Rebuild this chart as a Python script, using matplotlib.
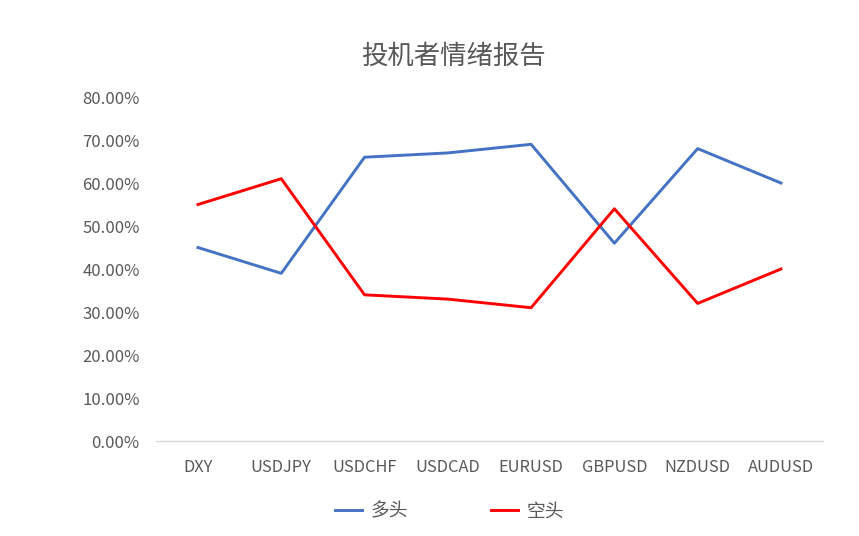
import matplotlib
matplotlib.use('Agg')
import matplotlib.pyplot as plt
from matplotlib.ticker import FuncFormatter, MultipleLocator

plt.rcParams['font.family'] = ['Noto Sans CJK SC', 'DejaVu Sans']

# data
pairs = ['DXY', 'USDJPY', 'USDCHF', 'USDCAD', 'EURUSD', 'GBPUSD', 'NZDUSD', 'AUDUSD']
long_pct = [45, 39, 66, 67, 69, 46, 68, 60]
short_pct = [55, 61, 34, 33, 31, 54, 32, 40]

text_col = '#595959'

fig = plt.figure(figsize=(8.59, 5.36), dpi=100)
ax = fig.add_axes([0.182, 0.1772, 0.7756, 0.6418])

x = range(len(pairs))
ax.plot(x, [v / 100 for v in long_pct], color='#4472C4', lw=2.1, label='多头')
ax.plot(x, [v / 100 for v in short_pct], color='#FF0000', lw=2.1, label='空头')

ax.set_xlim(-0.5, len(pairs) - 0.5)
ax.set_ylim(0, 0.8)
ax.yaxis.set_major_locator(MultipleLocator(0.1))
ax.yaxis.set_major_formatter(FuncFormatter(lambda v, p: '%.2f%%' % (v * 100)))
ax.set_xticks(list(x))
ax.set_xticklabels(pairs)

for s in ['top', 'right', 'left']:
    ax.spines[s].set_visible(False)
ax.spines['bottom'].set_color('#D9D9D9')
ax.spines['bottom'].set_linewidth(1.0)
ax.tick_params(axis='both', length=0, labelsize=11.8, colors=text_col)
ax.tick_params(axis='y', labelsize=12)
ax.tick_params(axis='x', pad=13)
ax.tick_params(axis='y', pad=12)

fig.text(0.528, 0.895, '投机者情绪报告', ha='center', va='center',
         fontsize=19, color=text_col)

leg = fig.legend(loc='center', bbox_to_anchor=(0.523, 0.047), ncol=2,
                 frameon=False, fontsize=13.5, handlelength=1.45,
                 columnspacing=4.4, handletextpad=0.45)
for t in leg.get_texts():
    t.set_color(text_col)

fig.savefig('out.png', dpi=100)
